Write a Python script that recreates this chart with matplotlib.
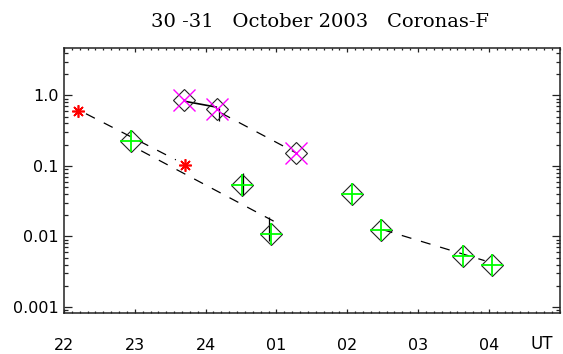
import matplotlib
matplotlib.use("Agg")
import matplotlib.pyplot as plt
from matplotlib.ticker import FixedLocator, AutoMinorLocator, LogLocator, NullFormatter

# time in hours since 00 UT on 30 Oct (24 = 00 UT 31 Oct)
red_x = [22.20, 23.71]
red_y = [0.60, 0.102]

mag_x = [23.70, 24.16, 25.27]
mag_y = [0.87, 0.65, 0.155]

grn_x = [22.95, 24.52, 24.92, 26.07, 26.47, 27.63, 28.04]
grn_y = [0.227, 0.054, 0.0108, 0.0404, 0.0125, 0.00535, 0.0040]

# small black error strokes
err_x = [24.19, 24.53, 24.90]
err_lo = [0.43, 0.039, 0.0085]
err_hi = [0.66, 0.080, 0.0190]

# fitted / connecting lines
fit_a_x, fit_a_y = [22.31, 23.58], [0.55, 0.122]
fit_b_x, fit_b_y = [23.09, 25.00], [0.164, 0.0157]
fit_c_x, fit_c_y = [24.22, 25.30], [0.562, 0.149]
seg_c_x, seg_c_y = [23.72, 24.15], [0.82, 0.683]
fit_d_x, fit_d_y = [26.50, 27.94], [0.0125, 0.00454]

xticks = [22, 23, 24, 25, 26, 27, 28]
xlabels = ["22", "23", "24", "01", "02", "03", "04"]
yticks = [0.001, 0.01, 0.1, 1.0]
ylabels = ["0.001", "0.01", "0.1", "1.0"]


def main():
    fig = plt.figure(figsize=(5.63, 3.54), dpi=100)
    ax = fig.add_axes([64 / 563, 1 - 312.7 / 354, (559.7 - 64) / 563, (312.7 - 48) / 354])

    dash = dict(color="black", lw=0.9, dashes=(8, 8))
    ax.plot(fit_a_x, fit_a_y, **dash)
    ax.plot(fit_b_x, fit_b_y, **dash)
    ax.plot(fit_c_x, fit_c_y, **dash)
    ax.plot(fit_d_x, fit_d_y, **dash)
    ax.plot(seg_c_x, seg_c_y, color="black", lw=1.2)
    ax.vlines(err_x, err_lo, err_hi, color="black", lw=0.9)

    dia = dict(ls="none", marker="D", ms=11.5, mfc="none", mec="#222222", mew=0.8)
    ax.plot(mag_x, mag_y, **dia)
    ax.plot(grn_x, grn_y, **dia)
    ax.plot(mag_x, mag_y, ls="none", marker="x", ms=16, mec="#ff00ff", mew=1.0)
    ax.plot(grn_x, grn_y, ls="none", marker="+", ms=16, mec="#00ff00", mew=1.3)
    ax.plot(red_x, red_y, ls="none", marker=(8, 2, 0), ms=9, mec="#ff0000", mew=1.2)

    ax.set_xlim(22, 29)
    ax.set_yscale("log")
    ax.set_ylim(0.00083, 4.7)

    ax.xaxis.set_major_locator(FixedLocator(xticks))
    ax.set_xticklabels(xlabels)
    ax.xaxis.set_minor_locator(AutoMinorLocator(9))
    ax.yaxis.set_major_locator(FixedLocator(yticks))
    ax.set_yticklabels(ylabels)
    ax.yaxis.set_minor_locator(LogLocator(base=10, subs=range(2, 10)))
    ax.yaxis.set_minor_formatter(NullFormatter())

    ax.tick_params(axis="both", which="both", direction="in",
                   top=True, right=True, color="#222222", labelsize=11.5)
    ax.tick_params(axis="x", which="major", length=3, width=0.9, pad=18)
    ax.tick_params(axis="x", which="minor", length=1.5, width=0.9)
    ax.tick_params(axis="y", which="major", length=5.8, width=0.9, pad=4)
    ax.tick_params(axis="y", which="minor", length=3.1, width=0.9)
    for s in ax.spines.values():
        s.set_linewidth(1.1)
        s.set_color("#222222")

    ax.annotate("UT", xy=(28.75, 0), xycoords=("data", "axes fraction"),
                xytext=(0, -22.5), textcoords="offset points",
                ha="center", va="center", fontsize=12)

    fig.text(320 / 563, 1 - 27 / 354, "30 -31   October 2003   Coronas-F",
             ha="center", va="baseline", fontsize=14, family="DejaVu Serif")

    fig.savefig("out.png", dpi=100)


if __name__ == "__main__":
    main()
